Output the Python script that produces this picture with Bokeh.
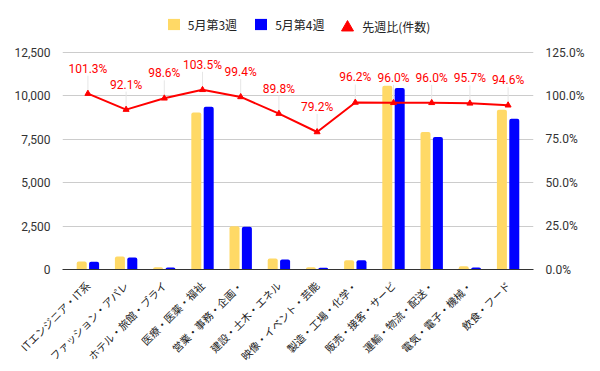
from bokeh.plotting import figure
from bokeh.models import (ColumnDataSource, Range1d, LinearAxis, FixedTicker,
                          NumeralTickFormatter, Legend, LegendItem, LabelSet)
from bokeh.core.properties import value
from bokeh.transform import dodge
from bokeh.embed import file_html
from bokeh.resources import INLINE
import math

# ---- data ----
categories = ["ITエンジニア・IT系", "ファッション・アパレ", "ホテル・旅館・ブライ",
              "医療・医薬・福祉", "営業・事務・企画・", "建設・土木・エネル",
              "映像・イベント・芸能", "製造・工場・化学・", "販売・接客・サービ",
              "運輸・物流・配送・", "電気・電子・機械・", "飲食・フード"]
week3 = [460, 750, 130, 9050, 2490, 630, 130, 530, 10590, 7920, 190, 9200]
week4 = [450, 690, 120, 9370, 2460, 570, 100, 530, 10450, 7630, 120, 8680]
ratio = [1.013, 0.921, 0.986, 1.035, 0.994, 0.898, 0.792, 0.962, 0.960, 0.960, 0.957, 0.946]
ratio_labels = ["101.3%", "92.1%", "98.6%", "103.5%", "99.4%", "89.8%", "79.2%",
                "96.2%", "96.0%", "96.0%", "95.7%", "94.6%"]
series_names = ["5月第3週", "5月第4週", "先週比(件数)"]
left_ticks = [0, 2500, 5000, 7500, 10000, 12500]
right_ticks = [0, 0.25, 0.5, 0.75, 1.0, 1.25]

YELLOW = "#ffd966"
BLUE = "#0000ff"
RED = "#ff0000"
FONT = "Roboto"
JFONT = "Noto Sans CJK JP"

W, H = 600, 371
ML, MR, MT, MB = 62, 67, 8, 102
frame_h = H - MT - MB
axis_h = 217                      # height of the 0..12,500 band in px
left_end = left_ticks[-1] * frame_h / axis_h
pct_end = right_ticks[-1] * frame_h / axis_h
label_gap = 18 * pct_end / frame_h  # 18px above point, in pct units

idx = list(range(len(categories)))
src = ColumnDataSource(dict(
    x=idx, w3=week3, w4=week4, r=ratio, rl=ratio_labels,
    rtop=[v + label_gap for v in ratio],
))

p = figure(width=W, height=H, output_backend="svg", toolbar_location=None,
           x_range=Range1d(-0.665, len(categories) - 1 + 0.665),
           y_range=Range1d(0, left_end),
           min_border_left=ML, min_border_right=MR, min_border_top=MT,
           min_border_bottom=MB)
p.outline_line_color = None
p.background_fill_color = "white"
p.border_fill_color = "white"
p.extra_y_ranges = {"pct": Range1d(0, pct_end)}

# bars
b3 = p.vbar(x=dodge("x", -0.162, range=p.x_range), top="w3", width=0.262, source=src,
            fill_color=YELLOW, line_color=None, border_radius=(2, 2, 0, 0))
b4 = p.vbar(x=dodge("x", 0.162, range=p.x_range), top="w4", width=0.262, source=src,
            fill_color=BLUE, line_color=None, border_radius=(2, 2, 0, 0))

# stems for labels
p.segment(x0="x", y0="r", x1="x", y1="rtop", source=src, y_range_name="pct",
          line_color="#e6e6e6", line_width=1)
# ratio line
p.line(x="x", y="r", source=src, y_range_name="pct", line_color=RED, line_width=2)
tri = p.scatter(x="x", y="r", source=src, y_range_name="pct", marker="triangle",
                size=6, fill_color=RED, line_color=RED)

labels = LabelSet(x="x", y="rtop", text="rl", source=src, y_range_name="pct",
                  text_align="center", text_baseline="bottom",
                  text_color=RED, text_font_size="12px", text_font=value(FONT))
p.add_layout(labels)

# axes
p.xaxis.ticker = FixedTicker(ticks=idx)
p.xaxis.major_label_overrides = {i: c for i, c in enumerate(categories)}
p.xaxis.major_label_orientation = math.pi / 4
p.xaxis.major_label_text_font = JFONT
p.xaxis.major_label_text_font_size = "10.5px"
p.xaxis.major_label_text_color = "#222222"
p.xaxis.major_label_standoff = 8
p.xaxis.axis_line_color = "#333333"
p.xaxis.major_tick_line_color = None
p.xaxis.minor_tick_line_color = None

p.yaxis.ticker = FixedTicker(ticks=left_ticks)
p.yaxis.formatter = NumeralTickFormatter(format="0,0")
p.yaxis.axis_line_color = None
p.yaxis.major_tick_line_color = None
p.yaxis.minor_tick_line_color = None
p.yaxis.major_label_standoff = 6
p.yaxis.major_label_text_font = FONT
p.yaxis.major_label_text_font_size = "12px"
p.yaxis.major_label_text_color = "#333333"

ra = LinearAxis(y_range_name="pct", ticker=FixedTicker(ticks=right_ticks),
                formatter=NumeralTickFormatter(format="0.0%"))
ra.axis_line_color = None
ra.major_tick_line_color = None
ra.minor_tick_line_color = None
ra.major_label_standoff = 6
ra.major_label_text_font = FONT
ra.major_label_text_font_size = "12px"
ra.major_label_text_color = "#333333"
p.add_layout(ra, "right")

p.xgrid.grid_line_color = None
p.ygrid.grid_line_color = "#cccccc"

# legends (inside the upper, unticked part of the frame)
leg1 = Legend(items=[LegendItem(label=series_names[0], renderers=[b3]),
                     LegendItem(label=series_names[1], renderers=[b4])],
              orientation="horizontal", location=(103.8, 236.4),
              glyph_width=15, glyph_height=14, label_height=14, label_standoff=7,
              spacing=16, padding=0, margin=0, border_line_color=None,
              background_fill_alpha=0, label_text_font=JFONT, label_text_font_size="12px",
              label_text_color="#222222")
leg2 = Legend(items=[LegendItem(label=series_names[2], renderers=[tri])],
              orientation="horizontal", location=(270.2, 227.5),
              glyph_width=30, glyph_height=30, label_height=30, label_standoff=0,
              padding=0, margin=0, border_line_color=None,
              background_fill_alpha=0, label_text_font=JFONT, label_text_font_size="12px",
              label_text_color="#222222")
p.add_layout(leg1, "center")
p.add_layout(leg2, "center")

open("out.html", "w").write(file_html(p, INLINE))
